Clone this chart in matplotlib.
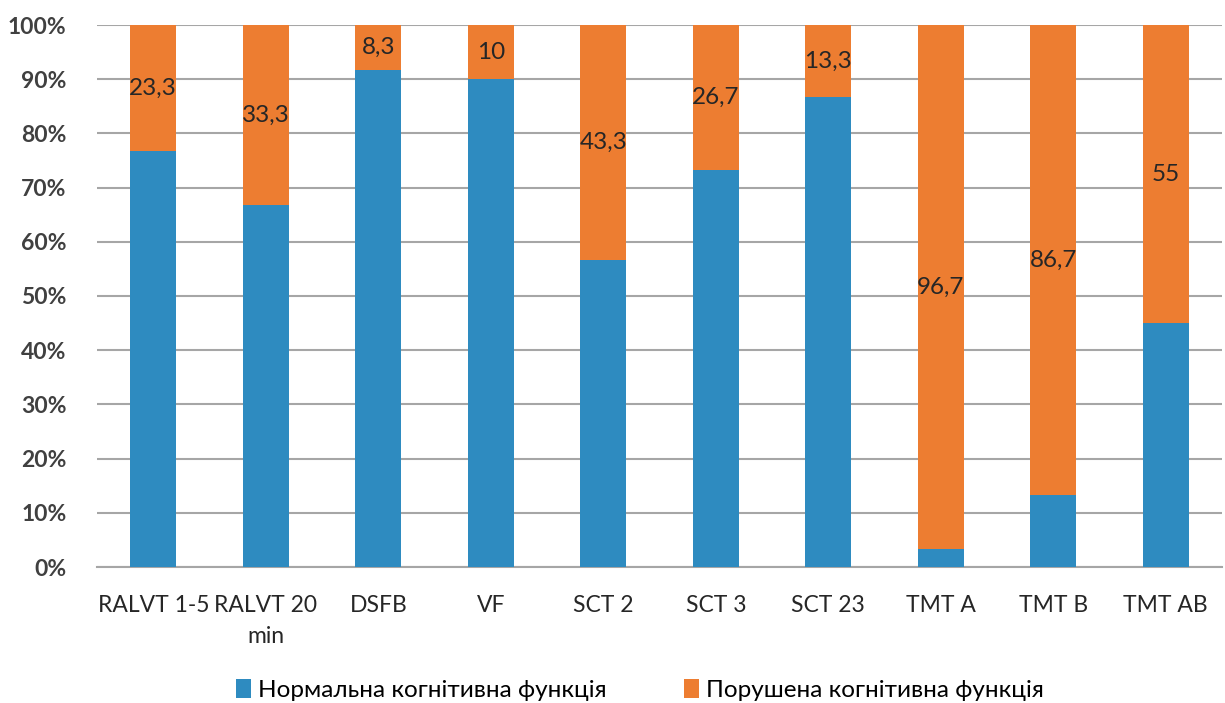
import matplotlib
matplotlib.use("Agg")
import matplotlib.pyplot as plt
from matplotlib.ticker import FuncFormatter
import numpy as np

categories = ["RALVT 1-5", "RALVT 20\nmin", "DSFB", "VF", "SCT 2", "SCT 3",
              "SCT 23", "TMT A", "TMT B", "TMT AB"]
impaired = [23.3, 33.3, 8.3, 10, 43.3, 26.7, 13.3, 96.7, 86.7, 55]
normal = [round(100 - v, 1) for v in impaired]
labels = ["23,3", "33,3", "8,3", "10", "43,3", "26,7", "13,3", "96,7", "86,7", "55"]
series_names = ["Нормальна когнітивна функція", "Порушена когнітивна функція"]

blue = "#2e8bc0"
orange = "#ed7d31"

plt.rcParams["font.family"] = ["Lato", "DejaVu Sans"]

fig = plt.figure(figsize=(12.25, 7.03), dpi=100)
ax = fig.add_axes([97 / 1225, 1 - 567 / 703, 1125 / 1225, 542 / 703])

x = np.arange(len(categories))
w = 0.41
ax.bar(x, normal, w, color=blue, label=series_names[0], zorder=3)
ax.bar(x, impaired, w, bottom=normal, color=orange, label=series_names[1], zorder=3)

for xi, b, h, t in zip(x, normal, impaired, labels):
    ax.text(xi, b + h / 2, t, ha="center", va="center", fontsize=17.5,
            color="#262626", zorder=4)

ax.set_xlim(-0.5, len(categories) - 0.5)
ax.set_ylim(0, 100)
ax.set_yticks(np.arange(0, 101, 10))
ax.yaxis.set_major_formatter(FuncFormatter(lambda v, p: f"{int(v)}%"))
ax.grid(axis="y", color="#a6a6a6", linewidth=1.5, zorder=0)
ax.tick_params(axis="y", length=0, pad=22, labelsize=16.5, labelcolor="#404040")
ax.tick_params(axis="x", length=0, pad=20, labelsize=16.5, labelcolor="#262626")
for lab in ax.get_yticklabels():
    lab.set_fontweight("bold")
ax.set_xticks(x)
ax.set_xticklabels(categories, linespacing=1.6)
for s in ["top", "right", "left"]:
    ax.spines[s].set_visible(False)
ax.spines["bottom"].set_color("#a6a6a6")
ax.spines["bottom"].set_linewidth(1.5)

fig.legend(loc="center", bbox_to_anchor=(640 / 1225, 1 - 690 / 703), ncol=2,
           frameon=False, fontsize=17.5, handlelength=0.6, handleheight=0.8,
           handletextpad=0.3, columnspacing=3.2)

fig.savefig("out.png", dpi=100)
